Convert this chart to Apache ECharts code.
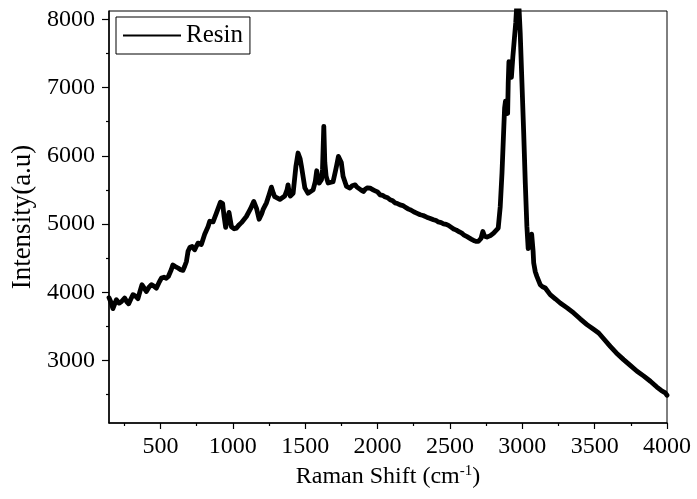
<!DOCTYPE html>
<html>
<head>
<meta charset="utf-8">
<script src="https://cdn.jsdelivr.net/npm/echarts@6/dist/echarts.min.js"></script>
<style>
  html, body { margin: 0; padding: 0; background: #fff; }
  #chart { width: 697px; height: 499px; }
</style>
</head>
<body>
<div id="chart"></div>
<script>
// Raman shift (cm-1)
const ramanShift = [
  145, 157, 172, 196, 215, 230, 253, 268, 281, 296, 311, 330, 345, 360, 373, 388, 403, 420, 438, 455,
  472, 490, 507, 525, 541, 555, 564, 575, 586, 600, 622, 640, 656, 668, 680, 691, 705, 719, 737, 750,
  760, 772, 783, 806, 829, 841, 864, 887, 915, 930, 940, 951, 974, 991, 1010, 1025, 1045, 1060, 1094, 1122,
  1145, 1164, 1182, 1200, 1209, 1233, 1251, 1267, 1280, 1290, 1325, 1359, 1375, 1382, 1390, 1398, 1417, 1436, 1451, 1465,
  1475, 1498, 1520, 1555, 1570, 1580, 1590, 1597, 1613, 1620, 1629, 1636, 1645, 1659, 1693, 1710, 1717, 1730, 1740, 1750,
  1762, 1786, 1809, 1825, 1846, 1858, 1870, 1885, 1903, 1915, 1930, 1949, 1965, 1980, 2000, 2018, 2035, 2050, 2070, 2087,
  2105, 2120, 2138, 2156, 2175, 2190, 2214, 2230, 2250, 2270, 2295, 2315, 2340, 2360, 2387, 2405, 2420, 2440, 2456, 2475,
  2490, 2510, 2526, 2545, 2560, 2580, 2595, 2615, 2630, 2650, 2664, 2680, 2696, 2715, 2728, 2740, 2756, 2780, 2802, 2834,
  2848, 2860, 2871, 2878, 2884, 2892, 2899, 2903, 2908, 2915, 2925, 2935, 2945, 2955, 2962, 2970, 2978, 2986, 2998, 3010,
  3021, 3032, 3041, 3052, 3065, 3075, 3079, 3090, 3101, 3124, 3140, 3159, 3193, 3230, 3262, 3310, 3355, 3400, 3447, 3490,
  3528, 3570, 3608, 3650, 3700, 3750, 3793, 3840, 3885, 3930, 3960, 3988, 4000
];
// Intensity (a.u.)
const intensity = [
  3920, 3860, 3760, 3890, 3840, 3860, 3915, 3860, 3830, 3900, 3964, 3940, 3905, 4020, 4110, 4060, 4010, 4070, 4110, 4090,
  4060, 4140, 4208, 4220, 4205, 4230, 4250, 4330, 4400, 4380, 4355, 4330, 4320, 4380, 4451, 4600, 4660, 4671, 4622, 4680,
  4720, 4730, 4700, 4850, 4960, 5040, 5030, 5160, 5320, 5300, 5110, 4950, 5170, 4960, 4930, 4940, 4990, 5020, 5110, 5220,
  5330, 5230, 5070, 5150, 5210, 5310, 5430, 5540, 5450, 5400, 5360, 5410, 5500, 5574, 5450, 5410, 5450, 5840, 6040, 5960,
  5840, 5530, 5450, 5500, 5620, 5780, 5640, 5600, 5650, 5800, 6430, 5900, 5700, 5600, 5620, 5780, 5850, 5990, 6013, 5900,
  5700, 5550, 5526, 5560, 5574, 5540, 5545, 5500, 5476, 5510, 5530, 5526, 5505, 5490, 5470, 5428, 5420, 5400, 5385, 5355,
  5340, 5310, 5300, 5281, 5270, 5250, 5218, 5205, 5180, 5160, 5135, 5125, 5100, 5085, 5062, 5050, 5030, 5020, 5003, 4995,
  4980, 4950, 4926, 4910, 4890, 4870, 4842, 4820, 4800, 4775, 4759, 4745, 4744, 4790, 4890, 4820, 4808, 4830, 4867, 4940,
  5257, 5745, 6331, 6700, 6800, 6700, 6620, 7063, 7380, 7300, 7150, 7450, 7700, 7950, 8200, 8250, 8150, 7795, 7063, 6331,
  5599, 4964, 4640, 4700, 4850, 4600, 4430, 4300, 4232, 4110, 4080, 4062, 3964, 3900, 3842, 3770, 3696, 3610, 3525, 3460,
  3403, 3300, 3207, 3110, 3012, 2920, 2841, 2770, 2695, 2610, 2560, 2524, 2490
];
const xTickLabels = [500, 1000, 1500, 2000, 2500, 3000, 3500, 4000];
const xMinorTicks = [250, 750, 1250, 1750, 2250, 2750, 3250, 3750];
const yTickLabels = [3000, 4000, 5000, 6000, 7000, 8000];
const yMinorTicks = [2500, 3500, 4500, 5500, 6500, 7500];
const seriesName = 'Resin';

const X_MIN = 145, X_MAX = 4000, Y_MIN = 2083, Y_MAX = 8122;
const FONT = '"Liberation Serif", "Times New Roman", serif';

const chart = echarts.init(document.getElementById('chart'), null, { renderer: 'canvas' });
const seriesData = ramanShift.map((x, i) => [x, intensity[i]]);
const plain = v => String(v);

chart.setOption({
  backgroundColor: '#fff',
  animation: false,
  grid: {
    left: 109, right: 30, top: 11, bottom: 76,
    show: true, borderColor: '#000', borderWidth: 1, containLabel: false
  },
  legend: {
    left: 116, top: 17,
    data: [{ name: seriesName, icon: 'rect' }],
    itemWidth: 58, itemHeight: 2,
    padding: [6, 7, 6, 7],
    borderColor: '#000', borderWidth: 1,
    textStyle: { fontFamily: FONT, fontSize: 25, color: '#000' },
    itemStyle: { color: '#000' }
  },
  xAxis: [
    {
      type: 'value', min: X_MIN, max: X_MAX, position: 'bottom',
      name: 'Raman Shift (cm{sup|-1})',
      nameLocation: 'middle', nameGap: 38,
      nameTextStyle: {
        fontFamily: FONT, fontSize: 24, color: '#000',
        rich: { sup: { fontFamily: FONT, fontSize: 15, color: '#000', verticalAlign: 'top', padding: [0, 0, 10, 0] } }
      },
      axisLine: { show: true, onZero: false, lineStyle: { color: '#000', width: 1.5 } },
      axisTick: { show: true, inside: false, length: 6, customValues: xTickLabels, lineStyle: { color: '#000', width: 1.2 } },
      axisLabel: { customValues: xTickLabels, formatter: plain, fontFamily: FONT, fontSize: 24, color: '#000', margin: 12 },
      splitLine: { show: false }
    },
    {
      type: 'value', min: X_MIN, max: X_MAX, position: 'bottom',
      axisLine: { show: false },
      axisTick: { show: true, inside: false, length: 3, customValues: xMinorTicks, lineStyle: { color: '#000', width: 1.2 } },
      axisLabel: { show: false },
      splitLine: { show: false }
    }
  ],
  yAxis: [
    {
      type: 'value', min: Y_MIN, max: Y_MAX, position: 'left',
      name: 'Intensity(a.u)',
      nameLocation: 'middle', nameGap: 70,
      nameTextStyle: { fontFamily: FONT, fontSize: 27, color: '#000' },
      axisLine: { show: true, onZero: false, lineStyle: { color: '#000', width: 1.5 } },
      axisTick: { show: true, inside: false, length: 7, customValues: yTickLabels, lineStyle: { color: '#000', width: 1.2 } },
      axisLabel: { customValues: yTickLabels, formatter: plain, fontFamily: FONT, fontSize: 24, color: '#000', margin: 14 },
      splitLine: { show: false }
    },
    {
      type: 'value', min: Y_MIN, max: Y_MAX, position: 'left',
      axisLine: { show: false },
      axisTick: { show: true, inside: false, length: 3, customValues: yMinorTicks, lineStyle: { color: '#000', width: 1.2 } },
      axisLabel: { show: false },
      splitLine: { show: false }
    }
  ],
  series: [
    {
      name: seriesName, type: 'line', xAxisIndex: 0, yAxisIndex: 0,
      data: seriesData,
      showSymbol: false, symbol: 'none',
      lineStyle: { color: '#000', width: 4.8, join: 'round', cap: 'round' },
      itemStyle: { color: '#000' },
      clip: true
    }
  ]
});
</script>
</body>
</html>
